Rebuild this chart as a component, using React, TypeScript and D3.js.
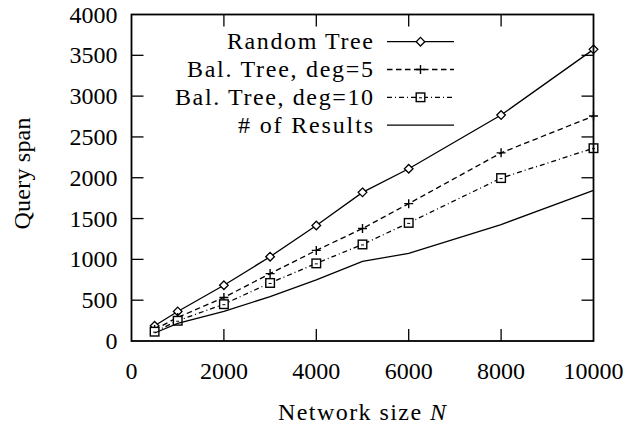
import React from "react";
import * as d3 from "d3";

const networkSizes = [500, 1000, 2000, 3000, 4000, 5000, 6000, 8000, 10000];
const randomTree = [187, 362, 683, 1033, 1415, 1821, 2110, 2768, 3573];
const balTree5 = [140, 289, 533, 826, 1110, 1378, 1683, 2305, 2756];
const balTree10 = [114, 248, 451, 711, 951, 1183, 1447, 1996, 2362];
const numResults = [98, 215, 362, 545, 750, 975, 1073, 1427, 1845];

const xTicks = [0, 2000, 4000, 6000, 8000, 10000];
const yTicks = [0, 500, 1000, 1500, 2000, 2500, 3000, 3500, 4000];

const seriesNames = ["Random Tree", "Bal. Tree, deg=5", "Bal. Tree, deg=10", "# of Results"];

const W = 637;
const H = 427;
const L = 131.5, R = 593.5, T = 14.5, B = 341;
const FONT = "Liberation Serif, DejaVu Serif, Times New Roman, serif";

type Marker = "diamond" | "plus" | "square" | "none";

function MarkerShape({ kind, x, y }: { kind: Marker; x: number; y: number }) {
  if (kind === "diamond") {
    const r = 4.3;
    return (
      <path
        d={`M${x},${y - r}L${x + r},${y}L${x},${y + r}L${x - r},${y}Z`}
        fill="white"
        stroke="black"
        strokeWidth={1.3}
      />
    );
  }
  if (kind === "plus") {
    const r = 4.5;
    return (
      <path d={`M${x - r},${y}H${x + r}M${x},${y - r}V${y + r}`} stroke="black" strokeWidth={1.4} fill="none" />
    );
  }
  if (kind === "square") {
    const r = 4.3;
    return (
      <g>
        <rect x={x - r} y={y - r} width={2 * r} height={2 * r} fill="white" stroke="black" strokeWidth={1.4} />
        <path d={`M${x - 1.5},${y + 0.5}H${x + 1.5}`} stroke="black" strokeWidth={1} />
      </g>
    );
  }
  return null;
}

export default function App() {
  const x = d3.scaleLinear().domain([0, 10000]).range([L, R]);
  const y = d3.scaleLinear().domain([0, 4000]).range([B, T]);

  const series: { name: string; values: number[]; dash: string; marker: Marker }[] = [
    { name: seriesNames[0], values: randomTree, dash: "none", marker: "diamond" },
    { name: seriesNames[1], values: balTree5, dash: "5.5,3.5", marker: "plus" },
    { name: seriesNames[2], values: balTree10, dash: "5,3,1,3", marker: "square" },
    { name: seriesNames[3], values: numResults, dash: "none", marker: "none" },
  ];

  const line = d3
    .line<[number, number]>()
    .x((d) => x(d[0]))
    .y((d) => y(d[1]));

  const tickLen = 12;
  const legendTextX = 373;
  const legendLineX0 = 387;
  const legendLineX1 = 454;
  const legendY0 = 41.7;
  const legendDY = 27.8;
  const legendWidths = [146, 186, 198, 135];

  return (
    <svg width={W} height={H} style={{ display: "block", position: "absolute", left: 0, top: 0, fontFamily: FONT }}>
      <rect x={0} y={0} width={W} height={H} fill="white" />
      {/* ticks */}
      {yTicks.slice(1, -1).map((t) => (
        <g key={"y" + t}>
          <line x1={L} x2={L + tickLen} y1={y(t)} y2={y(t)} stroke="black" strokeWidth={1.3} />
          <line x1={R} x2={R - tickLen} y1={y(t)} y2={y(t)} stroke="black" strokeWidth={1.3} />
        </g>
      ))}
      {xTicks.slice(1, -1).map((t) => (
        <g key={"x" + t}>
          <line x1={x(t)} x2={x(t)} y1={B} y2={B - tickLen} stroke="black" strokeWidth={1.3} />
          <line x1={x(t)} x2={x(t)} y1={T} y2={T + tickLen} stroke="black" strokeWidth={1.3} />
        </g>
      ))}
      {/* tick labels */}
      {yTicks.map((t) => (
        <text key={"yl" + t} x={117.5} y={y(t) + 8} textAnchor="end" fontSize={24} fill="black">
          {t}
        </text>
      ))}
      {xTicks.map((t) => (
        <text key={"xl" + t} x={x(t)} y={378.5} textAnchor="middle" fontSize={24} fill="black">
          {t}
        </text>
      ))}
      {/* axis titles */}
      <text x={278} y={420} fontSize={24} fill="black" textLength={168} lengthAdjust="spacing">
        Network size <tspan fontStyle="italic">N</tspan>
      </text>
      <text
        transform={`translate(30,173.5) rotate(-90)`}
        textAnchor="middle"
        fontSize={24}
        fill="black"
        textLength={112}
        lengthAdjust="spacing"
      >
        Query span
      </text>
      {/* series */}
      {series.map((s) => {
        const pts = networkSizes.map((n, i) => [n, s.values[i]] as [number, number]);
        return (
          <g key={s.name}>
            <path d={line(pts) || ""} fill="none" stroke="black" strokeWidth={1.3} strokeDasharray={s.dash} />
            {pts.map((p, i) => (
              <MarkerShape key={i} kind={s.marker} x={x(p[0])} y={y(p[1])} />
            ))}
          </g>
        );
      })}
      {/* legend */}
      {series.map((s, i) => {
        const ly = legendY0 + i * legendDY;
        return (
          <g key={"lg" + i}>
            <text
              x={legendTextX - legendWidths[i]}
              y={ly + 7.7}
              fontSize={24}
              fill="black"
              textLength={legendWidths[i]}
              lengthAdjust="spacing"
            >
              {s.name}
            </text>
            <line x1={legendLineX0} x2={legendLineX1} y1={ly} y2={ly} stroke="black" strokeWidth={1.3} strokeDasharray={s.dash} />
            <MarkerShape kind={s.marker} x={(legendLineX0 + legendLineX1) / 2} y={ly} />
          </g>
        );
      })}
      {/* frame */}
      <rect x={L} y={T} width={R - L} height={B - T} fill="none" stroke="black" strokeWidth={1.8} />
    </svg>
  );
}
